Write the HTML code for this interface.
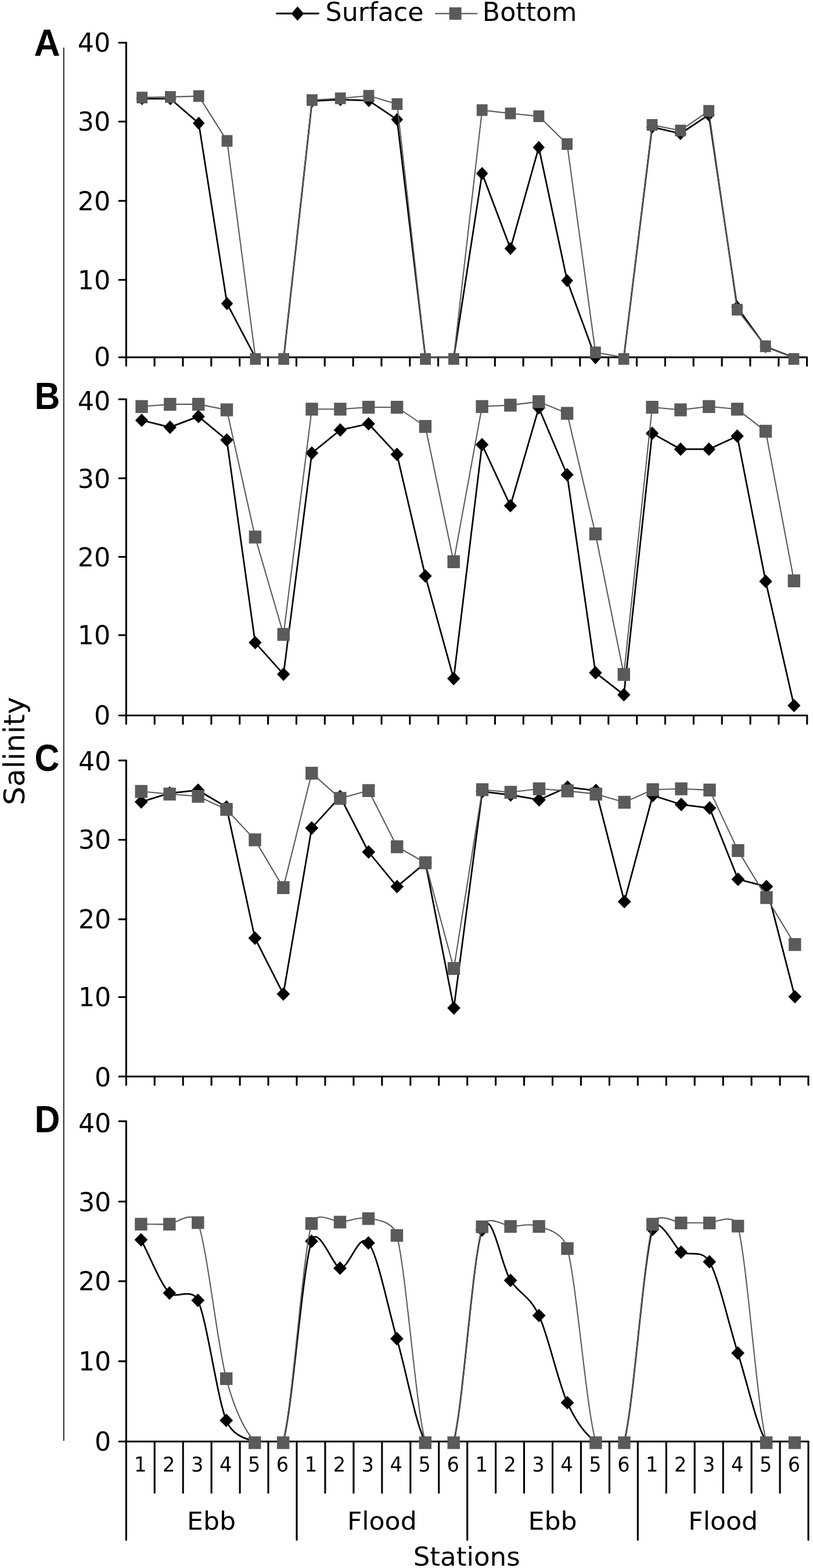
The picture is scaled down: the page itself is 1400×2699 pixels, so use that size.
<!DOCTYPE html>
<html lang="en">
<head>
<meta charset="utf-8">
<title>Salinity at stations - Surface and Bottom</title>
<style>
html,body{margin:0;padding:0;background:#fff;}
body{width:1400px;height:2699px;overflow:hidden;}
svg{display:block;}
</style>
</head>
<body>
<svg width="1400" height="2699" viewBox="0 0 1400 2699">
<rect width="1400" height="2699" fill="#fff"/>
<defs>
<clipPath id="clipA"><rect x="200" y="33.5" width="1200" height="582.5"/></clipPath>
<clipPath id="clipB"><rect x="200" y="647.3" width="1200" height="585.2"/></clipPath>
<clipPath id="clipC"><rect x="200" y="1269" width="1200" height="585"/></clipPath>
<clipPath id="clipD"><rect x="200" y="1890" width="1200" height="592.2"/></clipPath>
</defs>
<line x1="109.8" y1="82" x2="109.8" y2="2480" stroke="#000" stroke-width="1.6"/>
<g font-family="'DejaVu Sans', 'Liberation Sans', sans-serif" fill="#000">
<line x1="476.5" y1="23.3" x2="548.5" y2="23.3" stroke="#000" stroke-width="2.9" stroke-linecap="round"/>
<path d="M512.4 11L523.2 23.4L512.4 35.8L501.6 23.4Z"/>
<text x="560.5" y="36.3" font-size="44" textLength="169" lengthAdjust="spacingAndGlyphs">Surface</text>
<line x1="750" y1="23.3" x2="821.5" y2="23.3" stroke="#5a5a5a" stroke-width="2.3" stroke-linecap="round"/>
<rect x="773.6" y="12.6" width="21" height="21.4" fill="#5a5a5a"/>
<text x="830.8" y="36.3" font-size="44" textLength="162.5" lengthAdjust="spacingAndGlyphs">Bottom</text>
<text transform="translate(42.4 1386) rotate(-90)" font-size="49.5" textLength="186.5" lengthAdjust="spacingAndGlyphs">Salinity</text>
<line x1="217.3" y1="73.5" x2="217.3" y2="629.5" stroke="#000" stroke-width="3.1" stroke-linecap="round"/>
<line x1="205" y1="615" x2="1389.6" y2="615" stroke="#000" stroke-width="3.1" stroke-linecap="round"/>
<line x1="205" y1="73.5" x2="217.3" y2="73.5" stroke="#000" stroke-width="3.1" stroke-linecap="round"/>
<text x="190.1" y="89.4" font-size="44.3" text-anchor="end">40</text>
<line x1="205" y1="209.3" x2="217.3" y2="209.3" stroke="#000" stroke-width="3.1" stroke-linecap="round"/>
<text x="190.1" y="225.2" font-size="44.3" text-anchor="end">30</text>
<line x1="205" y1="345.8" x2="217.3" y2="345.8" stroke="#000" stroke-width="3.1" stroke-linecap="round"/>
<text x="190.1" y="361.7" font-size="44.3" text-anchor="end">20</text>
<line x1="205" y1="481.8" x2="217.3" y2="481.8" stroke="#000" stroke-width="3.1" stroke-linecap="round"/>
<text x="190.1" y="497.7" font-size="44.3" text-anchor="end">10</text>
<text x="190.1" y="630.4" font-size="44.3" text-anchor="end">0</text>
<line x1="266.1" y1="615" x2="266.1" y2="629.5" stroke="#000" stroke-width="3.1" stroke-linecap="round"/>
<line x1="315" y1="615" x2="315" y2="629.5" stroke="#000" stroke-width="3.1" stroke-linecap="round"/>
<line x1="363.8" y1="615" x2="363.8" y2="629.5" stroke="#000" stroke-width="3.1" stroke-linecap="round"/>
<line x1="412.7" y1="615" x2="412.7" y2="629.5" stroke="#000" stroke-width="3.1" stroke-linecap="round"/>
<line x1="461.5" y1="615" x2="461.5" y2="629.5" stroke="#000" stroke-width="3.1" stroke-linecap="round"/>
<line x1="510.4" y1="615" x2="510.4" y2="629.5" stroke="#000" stroke-width="3.1" stroke-linecap="round"/>
<line x1="559.2" y1="615" x2="559.2" y2="629.5" stroke="#000" stroke-width="3.1" stroke-linecap="round"/>
<line x1="608.1" y1="615" x2="608.1" y2="629.5" stroke="#000" stroke-width="3.1" stroke-linecap="round"/>
<line x1="656.9" y1="615" x2="656.9" y2="629.5" stroke="#000" stroke-width="3.1" stroke-linecap="round"/>
<line x1="705.8" y1="615" x2="705.8" y2="629.5" stroke="#000" stroke-width="3.1" stroke-linecap="round"/>
<line x1="754.6" y1="615" x2="754.6" y2="629.5" stroke="#000" stroke-width="3.1" stroke-linecap="round"/>
<line x1="803.5" y1="615" x2="803.5" y2="629.5" stroke="#000" stroke-width="3.1" stroke-linecap="round"/>
<line x1="852.3" y1="615" x2="852.3" y2="629.5" stroke="#000" stroke-width="3.1" stroke-linecap="round"/>
<line x1="901.1" y1="615" x2="901.1" y2="629.5" stroke="#000" stroke-width="3.1" stroke-linecap="round"/>
<line x1="950" y1="615" x2="950" y2="629.5" stroke="#000" stroke-width="3.1" stroke-linecap="round"/>
<line x1="998.8" y1="615" x2="998.8" y2="629.5" stroke="#000" stroke-width="3.1" stroke-linecap="round"/>
<line x1="1047.7" y1="615" x2="1047.7" y2="629.5" stroke="#000" stroke-width="3.1" stroke-linecap="round"/>
<line x1="1096.5" y1="615" x2="1096.5" y2="629.5" stroke="#000" stroke-width="3.1" stroke-linecap="round"/>
<line x1="1145.4" y1="615" x2="1145.4" y2="629.5" stroke="#000" stroke-width="3.1" stroke-linecap="round"/>
<line x1="1194.2" y1="615" x2="1194.2" y2="629.5" stroke="#000" stroke-width="3.1" stroke-linecap="round"/>
<line x1="1243.1" y1="615" x2="1243.1" y2="629.5" stroke="#000" stroke-width="3.1" stroke-linecap="round"/>
<line x1="1291.9" y1="615" x2="1291.9" y2="629.5" stroke="#000" stroke-width="3.1" stroke-linecap="round"/>
<line x1="1340.8" y1="615" x2="1340.8" y2="629.5" stroke="#000" stroke-width="3.1" stroke-linecap="round"/>
<line x1="1389.6" y1="615" x2="1389.6" y2="629.5" stroke="#000" stroke-width="3.1" stroke-linecap="round"/>
<line x1="217.3" y1="687.3" x2="217.3" y2="1246" stroke="#000" stroke-width="3.1" stroke-linecap="round"/>
<line x1="205" y1="1231.5" x2="1389.8" y2="1231.5" stroke="#000" stroke-width="3.1" stroke-linecap="round"/>
<line x1="205" y1="687.3" x2="217.3" y2="687.3" stroke="#000" stroke-width="3.1" stroke-linecap="round"/>
<text x="190.1" y="705.5" font-size="44.3" text-anchor="end">40</text>
<line x1="205" y1="823.2" x2="217.3" y2="823.2" stroke="#000" stroke-width="3.1" stroke-linecap="round"/>
<text x="190.1" y="840.3" font-size="44.3" text-anchor="end">30</text>
<line x1="205" y1="958.5" x2="217.3" y2="958.5" stroke="#000" stroke-width="3.1" stroke-linecap="round"/>
<text x="190.1" y="974.8" font-size="44.3" text-anchor="end">20</text>
<line x1="205" y1="1093.2" x2="217.3" y2="1093.2" stroke="#000" stroke-width="3.1" stroke-linecap="round"/>
<text x="190.1" y="1109.1" font-size="44.3" text-anchor="end">10</text>
<text x="190.1" y="1247.4" font-size="44.3" text-anchor="end">0</text>
<line x1="266.2" y1="1231.5" x2="266.2" y2="1246" stroke="#000" stroke-width="3.1" stroke-linecap="round"/>
<line x1="315" y1="1231.5" x2="315" y2="1246" stroke="#000" stroke-width="3.1" stroke-linecap="round"/>
<line x1="363.9" y1="1231.5" x2="363.9" y2="1246" stroke="#000" stroke-width="3.1" stroke-linecap="round"/>
<line x1="412.7" y1="1231.5" x2="412.7" y2="1246" stroke="#000" stroke-width="3.1" stroke-linecap="round"/>
<line x1="461.6" y1="1231.5" x2="461.6" y2="1246" stroke="#000" stroke-width="3.1" stroke-linecap="round"/>
<line x1="510.4" y1="1231.5" x2="510.4" y2="1246" stroke="#000" stroke-width="3.1" stroke-linecap="round"/>
<line x1="559.3" y1="1231.5" x2="559.3" y2="1246" stroke="#000" stroke-width="3.1" stroke-linecap="round"/>
<line x1="608.1" y1="1231.5" x2="608.1" y2="1246" stroke="#000" stroke-width="3.1" stroke-linecap="round"/>
<line x1="657" y1="1231.5" x2="657" y2="1246" stroke="#000" stroke-width="3.1" stroke-linecap="round"/>
<line x1="705.8" y1="1231.5" x2="705.8" y2="1246" stroke="#000" stroke-width="3.1" stroke-linecap="round"/>
<line x1="754.7" y1="1231.5" x2="754.7" y2="1246" stroke="#000" stroke-width="3.1" stroke-linecap="round"/>
<line x1="803.5" y1="1231.5" x2="803.5" y2="1246" stroke="#000" stroke-width="3.1" stroke-linecap="round"/>
<line x1="852.4" y1="1231.5" x2="852.4" y2="1246" stroke="#000" stroke-width="3.1" stroke-linecap="round"/>
<line x1="901.3" y1="1231.5" x2="901.3" y2="1246" stroke="#000" stroke-width="3.1" stroke-linecap="round"/>
<line x1="950.1" y1="1231.5" x2="950.1" y2="1246" stroke="#000" stroke-width="3.1" stroke-linecap="round"/>
<line x1="999" y1="1231.5" x2="999" y2="1246" stroke="#000" stroke-width="3.1" stroke-linecap="round"/>
<line x1="1047.8" y1="1231.5" x2="1047.8" y2="1246" stroke="#000" stroke-width="3.1" stroke-linecap="round"/>
<line x1="1096.7" y1="1231.5" x2="1096.7" y2="1246" stroke="#000" stroke-width="3.1" stroke-linecap="round"/>
<line x1="1145.5" y1="1231.5" x2="1145.5" y2="1246" stroke="#000" stroke-width="3.1" stroke-linecap="round"/>
<line x1="1194.4" y1="1231.5" x2="1194.4" y2="1246" stroke="#000" stroke-width="3.1" stroke-linecap="round"/>
<line x1="1243.2" y1="1231.5" x2="1243.2" y2="1246" stroke="#000" stroke-width="3.1" stroke-linecap="round"/>
<line x1="1292.1" y1="1231.5" x2="1292.1" y2="1246" stroke="#000" stroke-width="3.1" stroke-linecap="round"/>
<line x1="1340.9" y1="1231.5" x2="1340.9" y2="1246" stroke="#000" stroke-width="3.1" stroke-linecap="round"/>
<line x1="1389.8" y1="1231.5" x2="1389.8" y2="1246" stroke="#000" stroke-width="3.1" stroke-linecap="round"/>
<line x1="217.3" y1="1309" x2="217.3" y2="1867.5" stroke="#000" stroke-width="3.1" stroke-linecap="round"/>
<line x1="205" y1="1853" x2="1392" y2="1853" stroke="#000" stroke-width="3.1" stroke-linecap="round"/>
<line x1="205" y1="1309" x2="217.3" y2="1309" stroke="#000" stroke-width="3.1" stroke-linecap="round"/>
<text x="191.3" y="1326.1" font-size="44.3" text-anchor="end">40</text>
<line x1="205" y1="1445.5" x2="217.3" y2="1445.5" stroke="#000" stroke-width="3.1" stroke-linecap="round"/>
<text x="191.3" y="1461.4" font-size="44.3" text-anchor="end">30</text>
<line x1="205" y1="1582.4" x2="217.3" y2="1582.4" stroke="#000" stroke-width="3.1" stroke-linecap="round"/>
<text x="191.3" y="1598.3" font-size="44.3" text-anchor="end">20</text>
<line x1="205" y1="1716.2" x2="217.3" y2="1716.2" stroke="#000" stroke-width="3.1" stroke-linecap="round"/>
<text x="191.3" y="1732.1" font-size="44.3" text-anchor="end">10</text>
<text x="191.3" y="1869.8" font-size="44.3" text-anchor="end">0</text>
<line x1="266.2" y1="1853" x2="266.2" y2="1867.5" stroke="#000" stroke-width="3.1" stroke-linecap="round"/>
<line x1="315.2" y1="1853" x2="315.2" y2="1867.5" stroke="#000" stroke-width="3.1" stroke-linecap="round"/>
<line x1="364.1" y1="1853" x2="364.1" y2="1867.5" stroke="#000" stroke-width="3.1" stroke-linecap="round"/>
<line x1="413.1" y1="1853" x2="413.1" y2="1867.5" stroke="#000" stroke-width="3.1" stroke-linecap="round"/>
<line x1="462" y1="1853" x2="462" y2="1867.5" stroke="#000" stroke-width="3.1" stroke-linecap="round"/>
<line x1="511" y1="1853" x2="511" y2="1867.5" stroke="#000" stroke-width="3.1" stroke-linecap="round"/>
<line x1="559.9" y1="1853" x2="559.9" y2="1867.5" stroke="#000" stroke-width="3.1" stroke-linecap="round"/>
<line x1="608.9" y1="1853" x2="608.9" y2="1867.5" stroke="#000" stroke-width="3.1" stroke-linecap="round"/>
<line x1="657.8" y1="1853" x2="657.8" y2="1867.5" stroke="#000" stroke-width="3.1" stroke-linecap="round"/>
<line x1="706.8" y1="1853" x2="706.8" y2="1867.5" stroke="#000" stroke-width="3.1" stroke-linecap="round"/>
<line x1="755.7" y1="1853" x2="755.7" y2="1867.5" stroke="#000" stroke-width="3.1" stroke-linecap="round"/>
<line x1="804.7" y1="1853" x2="804.7" y2="1867.5" stroke="#000" stroke-width="3.1" stroke-linecap="round"/>
<line x1="853.6" y1="1853" x2="853.6" y2="1867.5" stroke="#000" stroke-width="3.1" stroke-linecap="round"/>
<line x1="902.5" y1="1853" x2="902.5" y2="1867.5" stroke="#000" stroke-width="3.1" stroke-linecap="round"/>
<line x1="951.5" y1="1853" x2="951.5" y2="1867.5" stroke="#000" stroke-width="3.1" stroke-linecap="round"/>
<line x1="1000.4" y1="1853" x2="1000.4" y2="1867.5" stroke="#000" stroke-width="3.1" stroke-linecap="round"/>
<line x1="1049.4" y1="1853" x2="1049.4" y2="1867.5" stroke="#000" stroke-width="3.1" stroke-linecap="round"/>
<line x1="1098.3" y1="1853" x2="1098.3" y2="1867.5" stroke="#000" stroke-width="3.1" stroke-linecap="round"/>
<line x1="1147.3" y1="1853" x2="1147.3" y2="1867.5" stroke="#000" stroke-width="3.1" stroke-linecap="round"/>
<line x1="1196.2" y1="1853" x2="1196.2" y2="1867.5" stroke="#000" stroke-width="3.1" stroke-linecap="round"/>
<line x1="1245.2" y1="1853" x2="1245.2" y2="1867.5" stroke="#000" stroke-width="3.1" stroke-linecap="round"/>
<line x1="1294.1" y1="1853" x2="1294.1" y2="1867.5" stroke="#000" stroke-width="3.1" stroke-linecap="round"/>
<line x1="1343.1" y1="1853" x2="1343.1" y2="1867.5" stroke="#000" stroke-width="3.1" stroke-linecap="round"/>
<line x1="1392" y1="1853" x2="1392" y2="1867.5" stroke="#000" stroke-width="3.1" stroke-linecap="round"/>
<line x1="217.3" y1="1930" x2="217.3" y2="2650.5" stroke="#000" stroke-width="3.1" stroke-linecap="round"/>
<line x1="205" y1="2481.2" x2="1392" y2="2481.2" stroke="#000" stroke-width="3.1" stroke-linecap="round"/>
<line x1="205" y1="1930" x2="217.3" y2="1930" stroke="#000" stroke-width="3.1" stroke-linecap="round"/>
<text x="191.3" y="1949.4" font-size="44.3" text-anchor="end">40</text>
<line x1="205" y1="2068.3" x2="217.3" y2="2068.3" stroke="#000" stroke-width="3.1" stroke-linecap="round"/>
<text x="191.3" y="2084.5" font-size="44.3" text-anchor="end">30</text>
<line x1="205" y1="2205.4" x2="217.3" y2="2205.4" stroke="#000" stroke-width="3.1" stroke-linecap="round"/>
<text x="191.3" y="2221.3" font-size="44.3" text-anchor="end">20</text>
<line x1="205" y1="2343.1" x2="217.3" y2="2343.1" stroke="#000" stroke-width="3.1" stroke-linecap="round"/>
<text x="191.3" y="2359" font-size="44.3" text-anchor="end">10</text>
<text x="191.3" y="2496.9" font-size="44.3" text-anchor="end">0</text>
<line x1="266.2" y1="2481.2" x2="266.2" y2="2569.5" stroke="#000" stroke-width="3.1" stroke-linecap="round"/>
<line x1="315.2" y1="2481.2" x2="315.2" y2="2569.5" stroke="#000" stroke-width="3.1" stroke-linecap="round"/>
<line x1="364.1" y1="2481.2" x2="364.1" y2="2569.5" stroke="#000" stroke-width="3.1" stroke-linecap="round"/>
<line x1="413.1" y1="2481.2" x2="413.1" y2="2569.5" stroke="#000" stroke-width="3.1" stroke-linecap="round"/>
<line x1="462" y1="2481.2" x2="462" y2="2569.5" stroke="#000" stroke-width="3.1" stroke-linecap="round"/>
<line x1="511" y1="2481.2" x2="511" y2="2650.5" stroke="#000" stroke-width="3.1" stroke-linecap="round"/>
<line x1="559.9" y1="2481.2" x2="559.9" y2="2569.5" stroke="#000" stroke-width="3.1" stroke-linecap="round"/>
<line x1="608.9" y1="2481.2" x2="608.9" y2="2569.5" stroke="#000" stroke-width="3.1" stroke-linecap="round"/>
<line x1="657.8" y1="2481.2" x2="657.8" y2="2569.5" stroke="#000" stroke-width="3.1" stroke-linecap="round"/>
<line x1="706.8" y1="2481.2" x2="706.8" y2="2569.5" stroke="#000" stroke-width="3.1" stroke-linecap="round"/>
<line x1="755.7" y1="2481.2" x2="755.7" y2="2569.5" stroke="#000" stroke-width="3.1" stroke-linecap="round"/>
<line x1="804.7" y1="2481.2" x2="804.7" y2="2650.5" stroke="#000" stroke-width="3.1" stroke-linecap="round"/>
<line x1="853.6" y1="2481.2" x2="853.6" y2="2569.5" stroke="#000" stroke-width="3.1" stroke-linecap="round"/>
<line x1="902.5" y1="2481.2" x2="902.5" y2="2569.5" stroke="#000" stroke-width="3.1" stroke-linecap="round"/>
<line x1="951.5" y1="2481.2" x2="951.5" y2="2569.5" stroke="#000" stroke-width="3.1" stroke-linecap="round"/>
<line x1="1000.4" y1="2481.2" x2="1000.4" y2="2569.5" stroke="#000" stroke-width="3.1" stroke-linecap="round"/>
<line x1="1049.4" y1="2481.2" x2="1049.4" y2="2569.5" stroke="#000" stroke-width="3.1" stroke-linecap="round"/>
<line x1="1098.3" y1="2481.2" x2="1098.3" y2="2650.5" stroke="#000" stroke-width="3.1" stroke-linecap="round"/>
<line x1="1147.3" y1="2481.2" x2="1147.3" y2="2569.5" stroke="#000" stroke-width="3.1" stroke-linecap="round"/>
<line x1="1196.2" y1="2481.2" x2="1196.2" y2="2569.5" stroke="#000" stroke-width="3.1" stroke-linecap="round"/>
<line x1="1245.2" y1="2481.2" x2="1245.2" y2="2569.5" stroke="#000" stroke-width="3.1" stroke-linecap="round"/>
<line x1="1294.1" y1="2481.2" x2="1294.1" y2="2569.5" stroke="#000" stroke-width="3.1" stroke-linecap="round"/>
<line x1="1343.1" y1="2481.2" x2="1343.1" y2="2569.5" stroke="#000" stroke-width="3.1" stroke-linecap="round"/>
<line x1="1392" y1="2481.2" x2="1392" y2="2650.5" stroke="#000" stroke-width="3.1" stroke-linecap="round"/>
<text x="241.8" y="2532.5" font-size="35.5" text-anchor="middle" textLength="21.4" lengthAdjust="spacingAndGlyphs">1</text>
<text x="290.7" y="2532.5" font-size="35.5" text-anchor="middle" textLength="21.4" lengthAdjust="spacingAndGlyphs">2</text>
<text x="339.7" y="2532.5" font-size="35.5" text-anchor="middle" textLength="21.4" lengthAdjust="spacingAndGlyphs">3</text>
<text x="388.6" y="2532.5" font-size="35.5" text-anchor="middle" textLength="21.4" lengthAdjust="spacingAndGlyphs">4</text>
<text x="437.6" y="2532.5" font-size="35.5" text-anchor="middle" textLength="21.4" lengthAdjust="spacingAndGlyphs">5</text>
<text x="486.5" y="2532.5" font-size="35.5" text-anchor="middle" textLength="21.4" lengthAdjust="spacingAndGlyphs">6</text>
<text x="535.4" y="2532.5" font-size="35.5" text-anchor="middle" textLength="21.4" lengthAdjust="spacingAndGlyphs">1</text>
<text x="584.4" y="2532.5" font-size="35.5" text-anchor="middle" textLength="21.4" lengthAdjust="spacingAndGlyphs">2</text>
<text x="633.3" y="2532.5" font-size="35.5" text-anchor="middle" textLength="21.4" lengthAdjust="spacingAndGlyphs">3</text>
<text x="682.3" y="2532.5" font-size="35.5" text-anchor="middle" textLength="21.4" lengthAdjust="spacingAndGlyphs">4</text>
<text x="731.2" y="2532.5" font-size="35.5" text-anchor="middle" textLength="21.4" lengthAdjust="spacingAndGlyphs">5</text>
<text x="780.2" y="2532.5" font-size="35.5" text-anchor="middle" textLength="21.4" lengthAdjust="spacingAndGlyphs">6</text>
<text x="829.1" y="2532.5" font-size="35.5" text-anchor="middle" textLength="21.4" lengthAdjust="spacingAndGlyphs">1</text>
<text x="878.1" y="2532.5" font-size="35.5" text-anchor="middle" textLength="21.4" lengthAdjust="spacingAndGlyphs">2</text>
<text x="927" y="2532.5" font-size="35.5" text-anchor="middle" textLength="21.4" lengthAdjust="spacingAndGlyphs">3</text>
<text x="976" y="2532.5" font-size="35.5" text-anchor="middle" textLength="21.4" lengthAdjust="spacingAndGlyphs">4</text>
<text x="1024.9" y="2532.5" font-size="35.5" text-anchor="middle" textLength="21.4" lengthAdjust="spacingAndGlyphs">5</text>
<text x="1073.9" y="2532.5" font-size="35.5" text-anchor="middle" textLength="21.4" lengthAdjust="spacingAndGlyphs">6</text>
<text x="1122.8" y="2532.5" font-size="35.5" text-anchor="middle" textLength="21.4" lengthAdjust="spacingAndGlyphs">1</text>
<text x="1171.7" y="2532.5" font-size="35.5" text-anchor="middle" textLength="21.4" lengthAdjust="spacingAndGlyphs">2</text>
<text x="1220.7" y="2532.5" font-size="35.5" text-anchor="middle" textLength="21.4" lengthAdjust="spacingAndGlyphs">3</text>
<text x="1269.6" y="2532.5" font-size="35.5" text-anchor="middle" textLength="21.4" lengthAdjust="spacingAndGlyphs">4</text>
<text x="1318.6" y="2532.5" font-size="35.5" text-anchor="middle" textLength="21.4" lengthAdjust="spacingAndGlyphs">5</text>
<text x="1367.5" y="2532.5" font-size="35.5" text-anchor="middle" textLength="21.4" lengthAdjust="spacingAndGlyphs">6</text>
<text transform="translate(364.1 2632.5) scale(1.04 1)" font-size="42.5" text-anchor="middle">Ebb</text>
<text transform="translate(657.8 2632.5) scale(1.04 1)" font-size="42.5" text-anchor="middle">Flood</text>
<text transform="translate(951.5 2632.5) scale(1.04 1)" font-size="42.5" text-anchor="middle">Ebb</text>
<text transform="translate(1245.2 2632.5) scale(1.04 1)" font-size="42.5" text-anchor="middle">Flood</text>
<text x="803.7" y="2694.5" font-size="44" text-anchor="middle" textLength="184" lengthAdjust="spacingAndGlyphs">Stations</text>
</g>
<g font-family="'Liberation Sans', sans-serif" font-weight="bold" font-size="65" fill="#000">
<text transform="translate(58.6 96) scale(0.96 1)" font-size="65">A</text>
<text transform="translate(59.4 704.2) scale(0.95 1)" font-size="64">B</text>
<text transform="translate(59.6 1327.3) scale(0.912 1)" font-size="65">C</text>
<text transform="translate(59.4 1948.9) scale(0.95 1)" font-size="64">D</text>
</g>
<g clip-path="url(#clipA)">
<path d="M244.6 169.8 L293.4 170 L342.2 212.1 L391 522.6 L439.8 615.3 L488.6 615.3 L537.4 174 L586.2 171.4 L635 173.2 L683.8 205.8 L732.6 615.3 L781.4 615.3 L830.2 298.6 L879 427.7 L927.8 253.7 L976.6 483 L1025.4 615.7 L1074.2 615.3 L1123 218.7 L1171.8 230 L1220.6 197.7 L1269.4 528.6 L1318.2 596.5 L1367 615.3" fill="none" stroke="#000" stroke-width="2.75" stroke-linejoin="round"/>
</g>
<g fill="#000"><path d="M244.6 158.5L254.8 169.8L244.6 181.1L234.4 169.8Z"/><path d="M293.4 158.7L303.6 170L293.4 181.3L283.2 170Z"/><path d="M342.2 200.8L352.4 212.1L342.2 223.4L332 212.1Z"/><path d="M391 511.3L401.2 522.6L391 533.9L380.8 522.6Z"/><path d="M537.4 162.7L547.6 174L537.4 185.3L527.2 174Z"/><path d="M586.2 160.1L596.4 171.4L586.2 182.7L576 171.4Z"/><path d="M635 161.9L645.2 173.2L635 184.5L624.8 173.2Z"/><path d="M683.8 194.5L694 205.8L683.8 217.1L673.6 205.8Z"/><path d="M830.2 287.3L840.4 298.6L830.2 309.9L820 298.6Z"/><path d="M879 416.4L889.2 427.7L879 439L868.8 427.7Z"/><path d="M927.8 242.4L938 253.7L927.8 265L917.6 253.7Z"/><path d="M976.6 471.7L986.8 483L976.6 494.3L966.4 483Z"/><path d="M1025.4 604.4L1035.6 615.7L1025.4 627L1015.2 615.7Z"/><path d="M1123 207.4L1133.2 218.7L1123 230L1112.8 218.7Z"/><path d="M1171.8 218.7L1182 230L1171.8 241.3L1161.6 230Z"/><path d="M1220.6 186.4L1230.8 197.7L1220.6 209L1210.4 197.7Z"/><path d="M1269.4 517.3L1279.6 528.6L1269.4 539.9L1259.2 528.6Z"/><path d="M1318.2 585.2L1328.4 596.5L1318.2 607.8L1308 596.5Z"/></g>
<g clip-path="url(#clipA)">
<path d="M244.6 167.8 L293.4 166.9 L342.2 165.4 L391 242.6 L439.8 615.3 L488.6 615.3 L537.4 172.3 L586.2 169.3 L635 164.8 L683.8 179.2 L732.6 615.3 L781.4 615.3 L830.2 189.6 L879 195.3 L927.8 200.1 L976.6 248 L1025.4 606.5 L1074.2 615.3 L1123 215.1 L1171.8 224.7 L1220.6 190.8 L1269.4 533 L1318.2 596 L1367 615.3" fill="none" stroke="#5a5a5a" stroke-width="2.1" stroke-linejoin="round"/>
</g>
<g fill="#5a5a5a"><rect x="235.2" y="157.8" width="18.8" height="20.1"/><rect x="284" y="156.8" width="18.8" height="20.1"/><rect x="332.8" y="155.3" width="18.8" height="20.1"/><rect x="381.6" y="232.5" width="18.8" height="20.1"/><rect x="430.4" y="607.8" width="18.8" height="20.1"/><rect x="479.2" y="607.8" width="18.8" height="20.1"/><rect x="528" y="162.2" width="18.8" height="20.1"/><rect x="576.8" y="159.2" width="18.8" height="20.1"/><rect x="625.6" y="154.8" width="18.8" height="20.1"/><rect x="674.4" y="169.1" width="18.8" height="20.1"/><rect x="723.2" y="607.8" width="18.8" height="20.1"/><rect x="772" y="607.8" width="18.8" height="20.1"/><rect x="820.8" y="179.5" width="18.8" height="20.1"/><rect x="869.6" y="185.2" width="18.8" height="20.1"/><rect x="918.4" y="190" width="18.8" height="20.1"/><rect x="967.2" y="237.9" width="18.8" height="20.1"/><rect x="1016" y="596.5" width="18.8" height="20.1"/><rect x="1064.8" y="607.8" width="18.8" height="20.1"/><rect x="1113.6" y="205" width="18.8" height="20.1"/><rect x="1162.4" y="214.6" width="18.8" height="20.1"/><rect x="1211.2" y="180.8" width="18.8" height="20.1"/><rect x="1260" y="523" width="18.8" height="20.1"/><rect x="1308.8" y="586" width="18.8" height="20.1"/><rect x="1357.6" y="607.8" width="18.8" height="20.1"/></g>
<g clip-path="url(#clipB)">
<path d="M244 723.5 L292.8 735.4 L341.7 716.9 L390.5 757.3 L439.4 1106.1 L488.2 1160.6 L537 779.8 L585.9 740.2 L634.7 729.5 L683.6 782.2 L732.4 991.4 L781.2 1168.1 L830.1 765.4 L878.9 870.5 L927.8 702 L976.6 817.2 L1025.4 1157.9 L1074.3 1195.9 L1123.1 745.9 L1172 773.2 L1220.8 773.2 L1269.6 750.7 L1318.5 1000.7 L1367.3 1214.5" fill="none" stroke="#000" stroke-width="2.75" stroke-linejoin="round"/>
</g>
<g fill="#000"><path d="M244 711.9L255.2 723.5L244 735.1L232.8 723.5Z"/><path d="M292.8 723.8L304 735.4L292.8 747L281.6 735.4Z"/><path d="M341.7 705.3L352.9 716.9L341.7 728.5L330.5 716.9Z"/><path d="M390.5 745.7L401.7 757.3L390.5 768.9L379.3 757.3Z"/><path d="M439.4 1094.5L450.6 1106.1L439.4 1117.7L428.2 1106.1Z"/><path d="M488.2 1149L499.4 1160.6L488.2 1172.2L477 1160.6Z"/><path d="M537 768.2L548.2 779.8L537 791.4L525.8 779.8Z"/><path d="M585.9 728.6L597.1 740.2L585.9 751.8L574.7 740.2Z"/><path d="M634.7 717.9L645.9 729.5L634.7 741.1L623.5 729.5Z"/><path d="M683.6 770.6L694.8 782.2L683.6 793.8L672.4 782.2Z"/><path d="M732.4 979.8L743.6 991.4L732.4 1003L721.2 991.4Z"/><path d="M781.2 1156.5L792.4 1168.1L781.2 1179.7L770 1168.1Z"/><path d="M830.1 753.8L841.3 765.4L830.1 777L818.9 765.4Z"/><path d="M878.9 858.9L890.1 870.5L878.9 882.1L867.7 870.5Z"/><path d="M927.8 690.4L939 702L927.8 713.6L916.6 702Z"/><path d="M976.6 805.6L987.8 817.2L976.6 828.8L965.4 817.2Z"/><path d="M1025.4 1146.3L1036.6 1157.9L1025.4 1169.5L1014.2 1157.9Z"/><path d="M1074.3 1184.3L1085.5 1195.9L1074.3 1207.5L1063.1 1195.9Z"/><path d="M1123.1 734.3L1134.3 745.9L1123.1 757.5L1111.9 745.9Z"/><path d="M1172 761.6L1183.2 773.2L1172 784.8L1160.8 773.2Z"/><path d="M1220.8 761.6L1232 773.2L1220.8 784.8L1209.6 773.2Z"/><path d="M1269.6 739.1L1280.8 750.7L1269.6 762.3L1258.4 750.7Z"/><path d="M1318.5 989.1L1329.7 1000.7L1318.5 1012.3L1307.3 1000.7Z"/><path d="M1367.3 1202.9L1378.5 1214.5L1367.3 1226.1L1356.1 1214.5Z"/></g>
<g clip-path="url(#clipB)">
<path d="M244 699.8 L292.8 695.9 L341.7 695.9 L390.5 705.5 L439.4 924.4 L488.2 1092 L537 704.3 L585.9 704.3 L634.7 701 L683.6 701 L732.4 734 L781.2 966.9 L830.1 699.8 L878.9 697.4 L927.8 691.4 L976.6 711.5 L1025.4 919 L1074.3 1160.9 L1123.1 701 L1172 705.5 L1220.8 699.8 L1269.6 704.3 L1318.5 742.3 L1367.3 999.8" fill="none" stroke="#5a5a5a" stroke-width="2.1" stroke-linejoin="round"/>
</g>
<g fill="#5a5a5a"><rect x="233.3" y="688.7" width="21.4" height="22.2"/><rect x="282.1" y="684.8" width="21.4" height="22.2"/><rect x="331" y="684.8" width="21.4" height="22.2"/><rect x="379.8" y="694.4" width="21.4" height="22.2"/><rect x="428.7" y="913.3" width="21.4" height="22.2"/><rect x="477.5" y="1080.9" width="21.4" height="22.2"/><rect x="526.3" y="693.2" width="21.4" height="22.2"/><rect x="575.2" y="693.2" width="21.4" height="22.2"/><rect x="624" y="689.9" width="21.4" height="22.2"/><rect x="672.9" y="689.9" width="21.4" height="22.2"/><rect x="721.7" y="722.9" width="21.4" height="22.2"/><rect x="770.5" y="955.8" width="21.4" height="22.2"/><rect x="819.4" y="688.7" width="21.4" height="22.2"/><rect x="868.2" y="686.3" width="21.4" height="22.2"/><rect x="917.1" y="680.3" width="21.4" height="22.2"/><rect x="965.9" y="700.4" width="21.4" height="22.2"/><rect x="1014.7" y="907.9" width="21.4" height="22.2"/><rect x="1063.6" y="1149.8" width="21.4" height="22.2"/><rect x="1112.4" y="689.9" width="21.4" height="22.2"/><rect x="1161.3" y="694.4" width="21.4" height="22.2"/><rect x="1210.1" y="688.7" width="21.4" height="22.2"/><rect x="1258.9" y="693.2" width="21.4" height="22.2"/><rect x="1307.8" y="731.2" width="21.4" height="22.2"/><rect x="1356.6" y="988.7" width="21.4" height="22.2"/></g>
<g clip-path="url(#clipC)">
<path d="M243.2 1380.3 L292.1 1365.3 L341.1 1360.2 L390 1389.3 L439 1614.7 L487.9 1711.1 L536.8 1425.2 L585.8 1371.3 L634.7 1466.5 L683.7 1526.1 L732.6 1485.1 L781.5 1735.1 L830.5 1362.3 L879.4 1368.3 L928.4 1376.7 L977.3 1354.9 L1026.2 1360.8 L1075.2 1551.9 L1124.1 1369.2 L1173.1 1384.8 L1222 1390.8 L1270.9 1513.5 L1319.9 1526.1 L1368.8 1715.6" fill="none" stroke="#000" stroke-width="2.75" stroke-linejoin="round"/>
</g>
<g fill="#000"><path d="M243.2 1368.6L254.6 1380.3L243.2 1392L231.8 1380.3Z"/><path d="M292.1 1353.6L303.5 1365.3L292.1 1377L280.7 1365.3Z"/><path d="M341.1 1348.5L352.5 1360.2L341.1 1371.9L329.7 1360.2Z"/><path d="M390 1377.6L401.4 1389.3L390 1401L378.6 1389.3Z"/><path d="M439 1603L450.4 1614.7L439 1626.4L427.6 1614.7Z"/><path d="M487.9 1699.4L499.3 1711.1L487.9 1722.8L476.5 1711.1Z"/><path d="M536.8 1413.5L548.2 1425.2L536.8 1436.9L525.4 1425.2Z"/><path d="M585.8 1359.6L597.2 1371.3L585.8 1383L574.4 1371.3Z"/><path d="M634.7 1454.8L646.1 1466.5L634.7 1478.2L623.3 1466.5Z"/><path d="M683.7 1514.4L695.1 1526.1L683.7 1537.8L672.3 1526.1Z"/><path d="M732.6 1473.4L744 1485.1L732.6 1496.8L721.2 1485.1Z"/><path d="M781.5 1723.4L792.9 1735.1L781.5 1746.8L770.1 1735.1Z"/><path d="M830.5 1350.6L841.9 1362.3L830.5 1374L819.1 1362.3Z"/><path d="M879.4 1356.6L890.8 1368.3L879.4 1380L868 1368.3Z"/><path d="M928.4 1365L939.8 1376.7L928.4 1388.4L917 1376.7Z"/><path d="M977.3 1343.2L988.7 1354.9L977.3 1366.6L965.9 1354.9Z"/><path d="M1026.2 1349.1L1037.6 1360.8L1026.2 1372.5L1014.8 1360.8Z"/><path d="M1075.2 1540.2L1086.6 1551.9L1075.2 1563.6L1063.8 1551.9Z"/><path d="M1124.1 1357.5L1135.5 1369.2L1124.1 1380.9L1112.7 1369.2Z"/><path d="M1173.1 1373.1L1184.5 1384.8L1173.1 1396.5L1161.7 1384.8Z"/><path d="M1222 1379.1L1233.4 1390.8L1222 1402.5L1210.6 1390.8Z"/><path d="M1270.9 1501.8L1282.3 1513.5L1270.9 1525.2L1259.5 1513.5Z"/><path d="M1319.9 1514.4L1331.3 1526.1L1319.9 1537.8L1308.5 1526.1Z"/><path d="M1368.8 1703.9L1380.2 1715.6L1368.8 1727.3L1357.4 1715.6Z"/></g>
<g clip-path="url(#clipC)">
<path d="M243.2 1362.3 L292.1 1366.8 L341.1 1370.7 L390 1393.2 L439 1445.6 L487.9 1527.9 L536.8 1330.9 L585.8 1374.3 L634.7 1360.8 L683.7 1457.5 L732.6 1485.1 L781.5 1667.1 L830.5 1359.3 L879.4 1363.8 L928.4 1357.8 L977.3 1361.4 L1026.2 1366.8 L1075.2 1380.9 L1124.1 1359.3 L1173.1 1357.8 L1222 1359.9 L1270.9 1464.1 L1319.9 1545 L1368.8 1625.8" fill="none" stroke="#5a5a5a" stroke-width="2.1" stroke-linejoin="round"/>
</g>
<g fill="#5a5a5a"><rect x="232.5" y="1351.2" width="21.4" height="22.2"/><rect x="281.4" y="1355.7" width="21.4" height="22.2"/><rect x="330.4" y="1359.6" width="21.4" height="22.2"/><rect x="379.3" y="1382.1" width="21.4" height="22.2"/><rect x="428.3" y="1434.5" width="21.4" height="22.2"/><rect x="477.2" y="1516.8" width="21.4" height="22.2"/><rect x="526.1" y="1319.8" width="21.4" height="22.2"/><rect x="575.1" y="1363.2" width="21.4" height="22.2"/><rect x="624" y="1349.7" width="21.4" height="22.2"/><rect x="673" y="1446.4" width="21.4" height="22.2"/><rect x="721.9" y="1474" width="21.4" height="22.2"/><rect x="770.8" y="1656" width="21.4" height="22.2"/><rect x="819.8" y="1348.2" width="21.4" height="22.2"/><rect x="868.7" y="1352.7" width="21.4" height="22.2"/><rect x="917.7" y="1346.7" width="21.4" height="22.2"/><rect x="966.6" y="1350.3" width="21.4" height="22.2"/><rect x="1015.5" y="1355.7" width="21.4" height="22.2"/><rect x="1064.5" y="1369.8" width="21.4" height="22.2"/><rect x="1113.4" y="1348.2" width="21.4" height="22.2"/><rect x="1162.4" y="1346.7" width="21.4" height="22.2"/><rect x="1211.3" y="1348.8" width="21.4" height="22.2"/><rect x="1260.2" y="1453" width="21.4" height="22.2"/><rect x="1309.2" y="1533.9" width="21.4" height="22.2"/><rect x="1358.1" y="1614.7" width="21.4" height="22.2"/></g>
<g clip-path="url(#clipD)">
<path d="M242.9 2134.1 C259.2 2164.6 275.5 2208.3 291.8 2225.7 C302.1 2236.7 330.5 2215.2 340.8 2238.3 C357.1 2274.8 373.4 2404.4 389.7 2444.9 C401.1 2473.2 427.3 2477.2 438.7 2481.5 C445.3 2484 480.9 2505 487.6 2481.5 C503.9 2424 520.2 2186.3 536.5 2136.5 C547 2104.5 575 2182.6 585.5 2182.9 C601.8 2183.4 618.1 2119.3 634.4 2139.5 C650.7 2159.7 667 2247.2 683.4 2304.2 C699.7 2361.2 716 2451.9 732.3 2481.5 C744.1 2502.9 774.9 2505.1 781.2 2481.5 C797.6 2420.8 813.9 2163.3 830.2 2117 C846.5 2070.7 862.8 2179.3 879.1 2203.9 C895.4 2228.5 911.7 2229.3 928.1 2264.4 C944.4 2299.5 960.7 2378.2 977 2414.4 C993.3 2450.6 1009.6 2470.3 1025.9 2481.5 C1032.3 2485.8 1068.6 2505.1 1074.9 2481.5 C1091.2 2420.6 1107.5 2170.3 1123.8 2116 C1132.9 2085.9 1163.7 2150.2 1172.8 2155.4 C1185.4 2162.6 1209 2149.4 1221.7 2171.9 C1238 2200.8 1254.3 2277.4 1270.6 2329 C1287 2380.6 1303.3 2456.1 1319.6 2481.5 C1332.8 2502.1 1361.9 2481.5 1368.5 2481.5" fill="none" stroke="#000" stroke-width="2.75" stroke-linejoin="round"/>
</g>
<g fill="#000"><path d="M242.9 2122.4L254.3 2134.1L242.9 2145.8L231.5 2134.1Z"/><path d="M291.8 2214L303.2 2225.7L291.8 2237.4L280.4 2225.7Z"/><path d="M340.8 2226.6L352.2 2238.3L340.8 2250L329.4 2238.3Z"/><path d="M389.7 2433.2L401.1 2444.9L389.7 2456.6L378.3 2444.9Z"/><path d="M536.5 2124.8L547.9 2136.5L536.5 2148.2L525.1 2136.5Z"/><path d="M585.5 2171.2L596.9 2182.9L585.5 2194.6L574.1 2182.9Z"/><path d="M634.4 2127.8L645.8 2139.5L634.4 2151.2L623 2139.5Z"/><path d="M683.4 2292.5L694.8 2304.2L683.4 2315.9L672 2304.2Z"/><path d="M830.2 2105.3L841.6 2117L830.2 2128.7L818.8 2117Z"/><path d="M879.1 2192.2L890.5 2203.9L879.1 2215.6L867.7 2203.9Z"/><path d="M928.1 2252.7L939.5 2264.4L928.1 2276.1L916.7 2264.4Z"/><path d="M977 2402.7L988.4 2414.4L977 2426.1L965.6 2414.4Z"/><path d="M1123.8 2104.3L1135.2 2116L1123.8 2127.7L1112.4 2116Z"/><path d="M1172.8 2143.7L1184.2 2155.4L1172.8 2167.1L1161.4 2155.4Z"/><path d="M1221.7 2160.2L1233.1 2171.9L1221.7 2183.6L1210.3 2171.9Z"/><path d="M1270.6 2317.3L1282 2329L1270.6 2340.7L1259.2 2329Z"/></g>
<g clip-path="url(#clipD)">
<path d="M242.9 2107.2 C259.2 2107.2 275.5 2107.6 291.8 2107.2 C300.3 2107 332.3 2081.5 340.8 2104.5 C357.1 2148.8 373.4 2310.3 389.7 2373.1 C404.7 2430.7 423.7 2464.9 438.7 2481.5 C444.8 2488.3 481.4 2505.2 487.6 2481.5 C503.9 2418.9 520.2 2169 536.5 2106 C542.7 2082.3 579.3 2104.1 585.5 2103.6 C601.8 2102.2 618.1 2093.8 634.4 2097.6 C641.4 2099.3 676.3 2099 683.4 2126.6 C699.7 2190.6 716 2422.3 732.3 2481.5 C738.8 2505.1 775 2505.2 781.2 2481.5 C797.6 2419.9 813.9 2173.4 830.2 2111.7 C836.4 2088 872.9 2111.1 879.1 2111.1 C895.4 2111 911.7 2104.8 928.1 2111.1 C936 2114.2 969.1 2119.1 977 2149.1 C993.3 2210.8 1009.6 2426.1 1025.9 2481.5 C1032.9 2505 1068.7 2505.2 1074.9 2481.5 C1091.2 2419.1 1107.5 2169.9 1123.8 2107.2 C1130 2083.5 1166.6 2105.2 1172.8 2105.1 C1189.1 2104.8 1205.4 2104.2 1221.7 2105.1 C1227.9 2105.4 1264.4 2086.7 1270.6 2110.5 C1287 2173.2 1303.3 2419.7 1319.6 2481.5 C1325.8 2505.2 1365.4 2481.5 1368.5 2481.5" fill="none" stroke="#5a5a5a" stroke-width="2.1" stroke-linejoin="round"/>
</g>
<g fill="#5a5a5a"><rect x="232.2" y="2096.3" width="21.4" height="21.8"/><rect x="281.1" y="2096.3" width="21.4" height="21.8"/><rect x="330.1" y="2093.6" width="21.4" height="21.8"/><rect x="379" y="2362.2" width="21.4" height="21.8"/><rect x="428" y="2472.4" width="21.4" height="21.8"/><rect x="476.9" y="2472.4" width="21.4" height="21.8"/><rect x="525.8" y="2095.1" width="21.4" height="21.8"/><rect x="574.8" y="2092.7" width="21.4" height="21.8"/><rect x="623.7" y="2086.7" width="21.4" height="21.8"/><rect x="672.7" y="2115.7" width="21.4" height="21.8"/><rect x="721.6" y="2472.4" width="21.4" height="21.8"/><rect x="770.5" y="2472.4" width="21.4" height="21.8"/><rect x="819.5" y="2100.8" width="21.4" height="21.8"/><rect x="868.4" y="2100.2" width="21.4" height="21.8"/><rect x="917.4" y="2100.2" width="21.4" height="21.8"/><rect x="966.3" y="2138.2" width="21.4" height="21.8"/><rect x="1015.2" y="2472.4" width="21.4" height="21.8"/><rect x="1064.2" y="2472.4" width="21.4" height="21.8"/><rect x="1113.1" y="2096.3" width="21.4" height="21.8"/><rect x="1162.1" y="2094.2" width="21.4" height="21.8"/><rect x="1211" y="2094.2" width="21.4" height="21.8"/><rect x="1259.9" y="2099.6" width="21.4" height="21.8"/><rect x="1308.9" y="2472.4" width="21.4" height="21.8"/><rect x="1357.8" y="2472.4" width="21.4" height="21.8"/></g>
</svg>
</body>
</html>
